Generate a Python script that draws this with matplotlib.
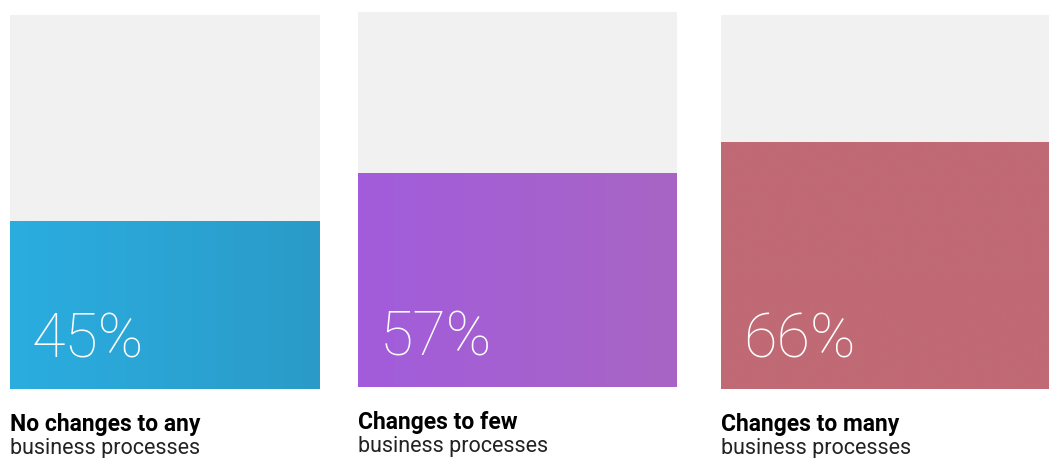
import matplotlib.pyplot as plt
import numpy as np
from matplotlib.colors import LinearSegmentedColormap

# Share of respondents per group
groups = ["No changes to any", "Changes to few", "Changes to many"]
subtitles = ["business processes", "business processes", "business processes"]
shares = [45, 57, 66]
fill_left = ["#2aade0", "#a25cdc", "#c06a75"]
fill_right = ["#2b9bc8", "#a865c4", "#c06a75"]

W, H = 1049, 458
# panel boxes in pixels: left, top, right, bottom
boxes = [(10, 15, 320, 389), (358, 12, 677, 387), (721, 15, 1049, 389)]

fig = plt.figure(figsize=(W / 100, H / 100), dpi=100)
fig.patch.set_facecolor("white")

for (x0, y0, x1, y1), share, group, sub, c0, c1 in zip(
        boxes, shares, groups, subtitles, fill_left, fill_right):
    ax = fig.add_axes([x0 / W, 1 - y1 / H, (x1 - x0) / W, (y1 - y0) / H])
    ax.set_xlim(0, 1)
    ax.set_ylim(0, 100)
    ax.set_facecolor("#f1f1f1")
    for spine in ax.spines.values():
        spine.set_visible(False)
    ax.set_xticks([]); ax.set_yticks([])

    bar = ax.bar(0.5, share, width=1, color="none", edgecolor="none")[0]
    cmap = LinearSegmentedColormap.from_list("fill", [c0, c1])
    grad = np.linspace(0, 1, 256).reshape(1, -1)
    img = ax.imshow(grad, cmap=cmap, extent=(0, 1, 0, share), aspect="auto",
                    interpolation="bicubic", zorder=1)
    img.set_clip_path(bar)

    ax.text(22 / (x1 - x0), 31 / (y1 - y0) * 100, f"{share}%", color="white",
            fontsize=44, family="Roboto", weight="light", ha="left",
            va="baseline", zorder=3)

    fig.text(x0 / W, 1 - (y1 + 42) / H, group, fontsize=16.5, weight="bold",
             family="Roboto", color="black", ha="left", va="baseline")
    fig.text(x0 / W, 1 - (y1 + 65) / H, sub, fontsize=15.5,
             family="Roboto", color="#222222", ha="left", va="baseline")

fig.savefig("out.png", dpi=100, facecolor="white")
